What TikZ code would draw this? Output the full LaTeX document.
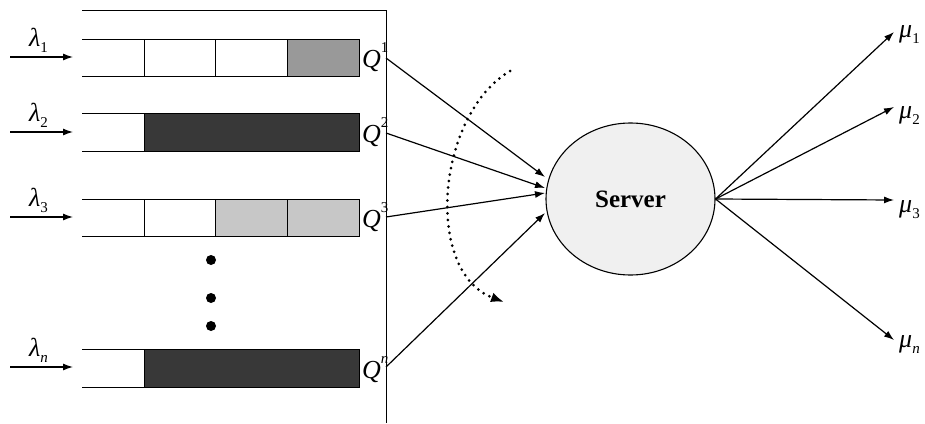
\documentclass[tikz,border=0pt]{standalone}
\usepackage{fontspec}
\setmainfont{Liberation Serif}
\usetikzlibrary{arrows.meta,shapes.geometric}
\newcommand{\sublab}[2]{\textit{#1}\raisebox{-0.25em}{\fontsize{15}{17}\selectfont #2}}
\newcommand{\suplab}[2]{\textit{#1}\raisebox{0.55em}{\fontsize{15}{17}\selectfont #2}}
\begin{document}
\begin{tikzpicture}[x=1pt,y=-1pt,
  qline/.style={line width=1pt},
  cellw/.style={draw,line width=1pt,fill=white},
  celllight/.style={draw,line width=1pt,fill=black!22},
  cellmid/.style={draw,line width=1pt,fill=black!40},
  celldark/.style={draw,line width=1pt,fill=black!78},
  flow/.style={line width=1.2pt,-{Latex[length=10pt,width=7pt]}},
  lab/.style={font=\fontsize{26}{28}\selectfont,inner sep=0pt,anchor=base west},
  dotstyle/.style={circle,fill=black,inner sep=0pt,minimum size=10pt}
]
\useasboundingbox (0,0) rectangle (925,423);
% frame
\draw[qline] (82,10) -- (386,10) -- (386,423);
% queue 1
\draw[qline] (82,39) -- (144,39) (82,76) -- (144,76);
\draw[cellw] (144,39) rectangle (215,76);
\draw[cellw] (215,39) rectangle (287,76);
\draw[cellmid] (287,39) rectangle (359,76);
% queue 2
\draw[qline] (82,113) -- (144,113) (82,151) -- (144,151);
\draw[celldark] (144,113) rectangle (359,151);
% queue 3
\draw[qline] (82,199) -- (144,199) (82,236) -- (144,236);
\draw[cellw] (144,199) rectangle (215,236);
\draw[celllight] (215,199) rectangle (287,236);
\draw[celllight] (287,199) rectangle (359,236);
% queue n
\draw[qline] (82,349) -- (144,349) (82,387) -- (144,387);
\draw[celldark] (144,349) rectangle (359,387);
% dots
\node[dotstyle] (d1) at (211,260) {};
\node[dotstyle] (d2) at (211,298) {};
\node[dotstyle] (d3) at (211,326) {};
% input arrows
\coordinate (a1s) at (10,57);  \coordinate (a1e) at (73,57);
\coordinate (a2s) at (10,132); \coordinate (a2e) at (73,132);
\coordinate (a3s) at (10,217); \coordinate (a3e) at (73,217);
\coordinate (ans) at (10,367); \coordinate (ane) at (73,367);
\draw[flow] (a1s) -- (a1e);
\draw[flow] (a2s) -- (a2e);
\draw[flow] (a3s) -- (a3e);
\draw[flow] (ans) -- (ane);
\node[lab] (l1) at (29,46) {\sublab{λ}{1}};
\node[lab] (l2) at (29,121) {\sublab{λ}{2}};
\node[lab] (l3) at (29,206) {\sublab{λ}{3}};
\node[lab] (ln) at (29,356) {\sublab{λ}{\itshape n}};
% Q labels
\node[lab] (Q1) at (362,67) {\suplab{Q}{1}};
\node[lab] (Q2) at (362,142) {\suplab{Q}{2}};
\node[lab] (Q3) at (362,227) {\suplab{Q}{3}};
\node[lab] (Qn) at (362,378) {\suplab{Q}{\itshape n}};
% server
\node[ellipse,draw,line width=1.1pt,fill=black!6,minimum width=169pt,minimum height=152pt,
  font=\fontsize{25}{27}\selectfont\bfseries] (server) at (630.5,199) {Server};
% connectors to server
\coordinate (q1) at (386,58);
\coordinate (q2) at (386,133);
\coordinate (q3) at (386,217);
\coordinate (qn) at (386,367);
\coordinate (t1) at (545,177);
\coordinate (t2) at (545,188);
\coordinate (t3) at (545,193);
\coordinate (tn) at (545,213);
\draw[flow] (q1) -- (t1);
\draw[flow] (q2) -- (t2);
\draw[flow] (q3) -- (t3);
\draw[flow] (qn) -- (tn);
% dotted arc
\coordinate (arcs) at (510,71);
\coordinate (arce) at (504,302);
\draw[line width=3pt,line cap=round,dash pattern=on 0pt off 6.5pt,
  -{Latex[length=13pt,width=10pt]}]
  (arcs) .. controls (436,115) and (424,272) .. (arce);
% outputs
\coordinate (m1) at (894,32);
\coordinate (m2) at (894,107);
\coordinate (m3) at (894,200);
\coordinate (mn) at (894,340);
\draw[flow] (server.east) -- (m1);
\draw[flow] (server.east) -- (m2);
\draw[flow] (server.east) -- (m3);
\draw[flow] (server.east) -- (mn);
\node[lab] (u1) at (899,37) {\sublab{μ}{1}};
\node[lab] (u2) at (899,118) {\sublab{μ}{2}};
\node[lab] (u3) at (899,212) {\sublab{μ}{3}};
\node[lab] (un) at (899,347) {\sublab{μ}{\itshape n}};
\end{tikzpicture}
\end{document}
